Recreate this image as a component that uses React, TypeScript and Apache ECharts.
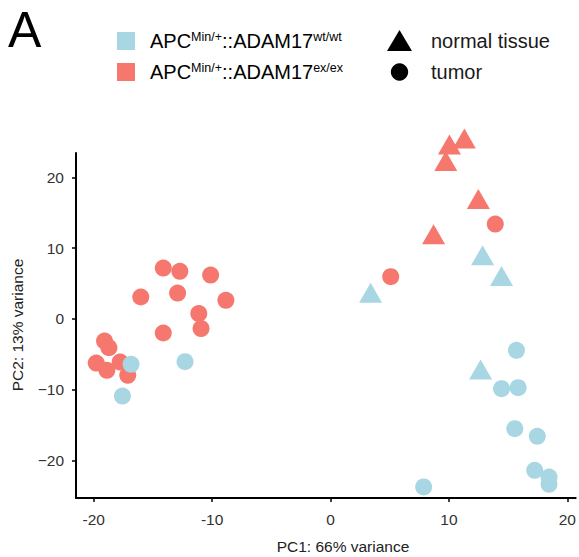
import React, { useEffect, useRef } from "react";
import * as echarts from "echarts";

// ---- data ----
const xTicks = [-20, -10, 0, 10, 20];
const yTicks = [-20, -10, 0, 10, 20];

const exTumor: [number, number][] = [
  [-14.13, 7.2], [-12.73, 6.73], [-10.13, 6.21], [-16.03, 3.1], [-12.92, 3.66],
  [-8.84, 2.63], [-11.13, 0.75], [-10.94, -1.37], [-14.13, -1.99], [-19.09, -3.13],
  [-18.72, -4.06], [-19.79, -6.24], [-18.89, -7.27], [-17.77, -6.1], [-17.13, -7.98],
  [13.91, 13.42], [5.08, 5.98],
];
const exNormal: [number, number][] = [
  [11.3, 25.06], [10.04, 24.19], [9.73, 21.87], [12.48, 16.48], [8.7, 11.5],
];
const wtTumor: [number, number][] = [
  [-16.85, -6.42], [-12.29, -6.04], [-17.58, -10.91],
  [15.7, -4.44], [14.44, -9.86], [15.84, -9.72], [15.56, -15.52], [17.46, -16.6],
  [17.24, -21.41], [18.45, -22.36], [18.45, -23.39], [7.86, -23.77],
];
const wtNormal: [number, number][] = [
  [12.84, 8.53], [14.44, 5.6], [3.38, 3.24], [12.67, -7.61],
];

const genotypeLabels = [
  "{m|APC}{s|Min/+}{m|::ADAM17}{s|wt/wt}",
  "{m|APC}{s|Min/+}{m|::ADAM17}{s|ex/ex}",
];
const tissueLabels = ["normal tissue", "tumor"];
const xTitle = "PC1: 66% variance";
const yTitle = "PC2: 13% variance";
const panelLetter = "A";

const BLUE = "#A9D6E3";
const RED = "#F6776D";
const FONT = "Liberation Sans, Arial, Helvetica, sans-serif";

export default function App() {
  const ref = useRef<HTMLDivElement>(null);
  useEffect(() => {
    if (!ref.current) return;
    const chart = echarts.init(ref.current, undefined, { renderer: "svg" });
    const circleSize = 17;
    const triSize = [23, 20];
    const triOffset = [0, -3.3];
    const rich = {
      m: { fontSize: 20, lineHeight: 22, fontFamily: FONT, color: "#1a1a1a" },
      s: { fontSize: 12.5, lineHeight: 13, fontFamily: FONT, color: "#1a1a1a", verticalAlign: "top" },
    };
    const row1 = 41;
    const row2 = 72;
    chart.setOption({
      animation: false,
      grid: { left: 76, top: 153, right: 1, bottom: 59, containLabel: false },
      xAxis: {
        type: "value",
        min: -21.5,
        max: 20.7,
        axisLine: { show: true, onZero: false, lineStyle: { color: "#000", width: 2 } },
        axisTick: { show: true, length: 4, customValues: xTicks, lineStyle: { color: "#000", width: 1.5 } },
        axisLabel: {
          show: true,
          customValues: xTicks,
          margin: 13,
          fontSize: 15.5,
          fontFamily: FONT,
          color: "#333",
          formatter: (v: number) => String(v),
        },
        splitLine: { show: false },
      },
      yAxis: {
        type: "value",
        min: -25.33,
        max: 23.47,
        axisLine: { show: true, onZero: false, lineStyle: { color: "#000", width: 2 } },
        axisTick: { show: true, length: 4, customValues: yTicks, lineStyle: { color: "#000", width: 1.5 } },
        axisLabel: {
          show: true,
          customValues: yTicks,
          margin: 12,
          fontSize: 15.5,
          fontFamily: FONT,
          color: "#333",
          formatter: (v: number) => String(v).replace("-", "\u2212"),
        },
        splitLine: { show: false },
      },
      series: [
        { type: "scatter", name: "ex/ex tumor", data: exTumor, symbol: "circle", symbolSize: circleSize, itemStyle: { color: RED, opacity: 1 }, clip: false },
        { type: "scatter", name: "ex/ex normal", data: exNormal, symbol: "triangle", symbolSize: triSize, symbolOffset: triOffset, itemStyle: { color: RED, opacity: 1 }, clip: false },
        { type: "scatter", name: "wt/wt tumor", data: wtTumor, symbol: "circle", symbolSize: circleSize, itemStyle: { color: BLUE, opacity: 1 }, clip: false },
        { type: "scatter", name: "wt/wt normal", data: wtNormal, symbol: "triangle", symbolSize: triSize, symbolOffset: triOffset, itemStyle: { color: BLUE, opacity: 1 }, clip: false },
      ],
      graphic: [
        { type: "text", left: 8, top: 5, style: { text: panelLetter, fontSize: 50, fontFamily: FONT, fill: "#000" } },
        { type: "rect", shape: { x: 117, y: row1 - 9, width: 18, height: 18 }, style: { fill: BLUE } },
        { type: "rect", shape: { x: 117, y: row2 - 9, width: 18, height: 18 }, style: { fill: RED } },
        { type: "text", x: 150, y: row1, style: { text: genotypeLabels[0], rich, align: "left", verticalAlign: "middle" } },
        { type: "text", x: 150, y: row2, style: { text: genotypeLabels[1], rich, align: "left", verticalAlign: "middle" } },
        { type: "polygon", shape: { points: [[399.5, row1 - 11], [412, row1 + 10], [387, row1 + 10]] }, style: { fill: "#000" } },
        { type: "circle", shape: { cx: 399.5, cy: row2, r: 8.7 }, style: { fill: "#000" } },
        { type: "text", x: 431, y: row1, style: { text: tissueLabels[0], fontSize: 20, fontFamily: FONT, fill: "#1a1a1a", align: "left", verticalAlign: "middle" } },
        { type: "text", x: 431, y: row2, style: { text: tissueLabels[1], fontSize: 20, fontFamily: FONT, fill: "#1a1a1a", align: "left", verticalAlign: "middle" } },
        { type: "text", x: 343, y: 546, style: { text: xTitle, fontSize: 15.5, fontFamily: FONT, fill: "#222", align: "center", verticalAlign: "middle" } },
        { type: "text", x: 17, y: 325, rotation: Math.PI / 2, style: { text: yTitle, fontSize: 15.5, fontFamily: FONT, fill: "#222", align: "center", verticalAlign: "middle" } },
      ],
    });
    return () => chart.dispose();
  }, []);
  return <div ref={ref} style={{ position: "absolute", left: 0, top: 0, width: 579, height: 557 }} />;
}
